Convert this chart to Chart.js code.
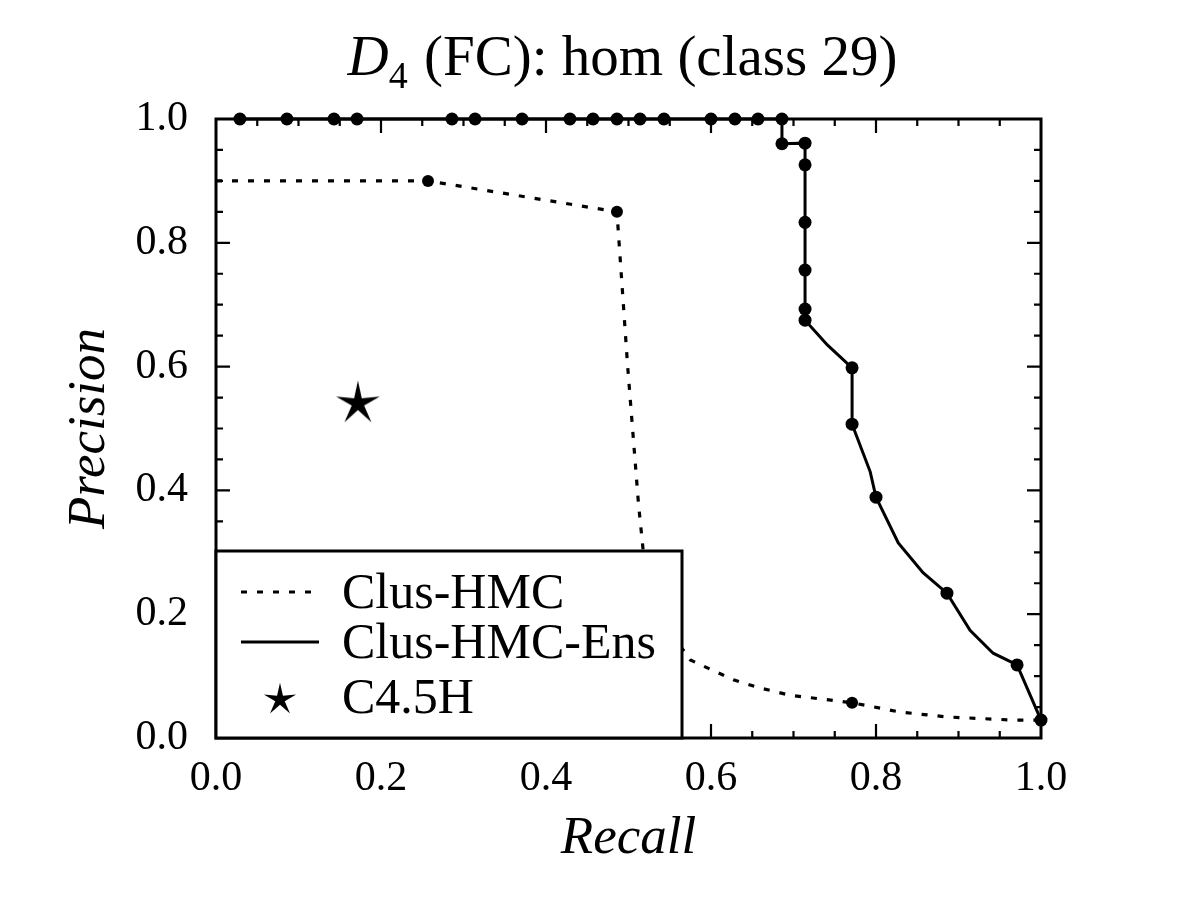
<!DOCTYPE html>
<html><head><meta charset="utf-8">
<script src="https://cdn.jsdelivr.net/npm/chart.js@4/dist/chart.umd.min.js"></script>
<style>html,body{margin:0;padding:0;background:#fff}#wrap{width:1200px;height:909px;position:relative}</style>
</head><body><div id="wrap"><canvas id="c"></canvas></div>
<script>
// ---- text ----
const titleMain = 'D';
const titleSub = '4';
const titleRest = ' (FC): hom (class 29)';
const xTitle = 'Recall';
const yTitle = 'Precision';
const tickValues = [0, 0.2, 0.4, 0.6, 0.8, 1.0];

// ---- Clus-HMC (dotted) ----
const hmcLabel = 'Clus-HMC';
const hmcRecall    = [0, 0.257, 0.486, 0.499, 0.512, 0.518, 0.535, 0.575, 0.627, 0.659, 0.696, 0.771, 0.829, 0.886, 0.966, 1.0];
const hmcPrecision = [0.9, 0.9, 0.85, 0.60, 0.38, 0.30, 0.20, 0.126, 0.094, 0.081, 0.069, 0.057, 0.042, 0.034, 0.029, 0.029];
const hmcMarked = [1, 2, 11, 15];

// ---- Clus-HMC-Ens (solid) ----
const ensLabel = 'Clus-HMC-Ens';
const ensRecall    = [0.029, 0.086, 0.143, 0.171, 0.286, 0.314, 0.371, 0.429, 0.457, 0.486, 0.514, 0.543, 0.600, 0.629, 0.657, 0.686,
                      0.686, 0.714, 0.714, 0.714, 0.714, 0.714, 0.714, 0.741, 0.771, 0.771, 0.793, 0.800, 0.827, 0.857, 0.886, 0.914, 0.942, 0.971, 1.0];
const ensPrecision = [1, 1, 1, 1, 1, 1, 1, 1, 1, 1, 1, 1, 1, 1, 1, 1,
                      0.960, 0.961, 0.926, 0.833, 0.756, 0.693, 0.675, 0.635, 0.598, 0.507, 0.430, 0.389, 0.315, 0.267, 0.234, 0.174, 0.137, 0.118, 0.029];
const ensUnmarked = [23, 26, 28, 29, 31, 32];

// ---- C4.5H (star) ----
const c45Label = 'C4.5H';
const c45Recall = [0.172];
const c45Precision = [0.544];

const FONT = '"Liberation Serif", "Times New Roman", serif';
Chart.defaults.font.family = FONT;
Chart.defaults.color = '#000';

function makeStar(R, r) {
  const s = Math.ceil(R * 2 + 4);
  const cv = document.createElement('canvas');
  cv.width = s; cv.height = s;
  const g = cv.getContext('2d');
  g.translate(s / 2, s / 2 + R * 0.1);
  g.beginPath();
  for (let i = 0; i < 10; i++) {
    const ang = -Math.PI / 2 + i * Math.PI / 5;
    const rad = i % 2 === 0 ? R : r;
    g.lineTo(Math.cos(ang) * rad, Math.sin(ang) * rad);
  }
  g.closePath();
  g.fillStyle = '#000';
  g.fill();
  return cv;
}
const bigStar = makeStar(23, 6.5);
const smallStar = makeStar(17, 5);

const toXY = (xs, ys) => xs.map((x, i) => ({x: x, y: ys[i]}));
const hmcSet = new Set(hmcMarked);
const ensUnSet = new Set(ensUnmarked);

const frameAndLegend = {
  id: 'frameAndLegend',
  afterDatasetsDraw(chart) {
    const ctx = chart.ctx, a = chart.chartArea;
    const xs = chart.scales.x, ys = chart.scales.y;
    ctx.save();
    ctx.strokeStyle = '#000';
    ctx.lineWidth = 2.2;
    for (let k = 1; k < 20; k++) {
      const v = k * 0.05;
      const len = (k % 4 === 0) ? 14 : 7;
      const px = xs.getPixelForValue(v), py = ys.getPixelForValue(v);
      ctx.beginPath();
      ctx.moveTo(px, a.bottom); ctx.lineTo(px, a.bottom - len);
      ctx.moveTo(px, a.top); ctx.lineTo(px, a.top + len);
      ctx.moveTo(a.left, py); ctx.lineTo(a.left + len, py);
      ctx.moveTo(a.right, py); ctx.lineTo(a.right - len, py);
      ctx.stroke();
    }
    ctx.lineWidth = 3;
    ctx.strokeRect(a.left, a.top, a.right - a.left, a.bottom - a.top);

    // legend box
    const W = 466, H = 187;
    const L = a.left, T = a.bottom - H;
    ctx.fillStyle = '#fff';
    ctx.fillRect(L, T, W, H);
    ctx.lineWidth = 3;
    ctx.strokeRect(L, T, W, H);
    const ds = chart.data.datasets;
    const x1 = L + 25, x2 = L + 103, tx = L + 126;
    ctx.lineWidth = ds[0].borderWidth;
    ctx.setLineDash(ds[0].borderDash);
    ctx.beginPath(); ctx.moveTo(x1, T + 41); ctx.lineTo(x2, T + 41); ctx.stroke();
    ctx.setLineDash([]);
    ctx.lineWidth = ds[1].borderWidth;
    ctx.beginPath(); ctx.moveTo(x1, T + 91); ctx.lineTo(x2, T + 91); ctx.stroke();
    ctx.drawImage(smallStar, (x1 + x2) / 2 - smallStar.width / 2, T + 147 - smallStar.height / 2);
    ctx.fillStyle = '#000';
    ctx.font = '50px ' + FONT;
    ctx.textBaseline = 'alphabetic';
    ctx.textAlign = 'left';
    ctx.fillText(ds[0].label, tx, T + 57);
    ctx.fillText(ds[1].label, tx, T + 107);
    ctx.fillText(ds[2].label, tx, T + 162);
    ctx.restore();
  },
  afterDraw(chart) {
    const ctx = chart.ctx, a = chart.chartArea;
    ctx.save();
    ctx.fillStyle = '#000';
    ctx.textBaseline = 'alphabetic';
    ctx.textAlign = 'left';
    const fMain = 'italic 57px ' + FONT, fSub = '38px ' + FONT, fRest = '57px ' + FONT;
    ctx.font = fMain; const wD = ctx.measureText(titleMain).width;
    ctx.font = fSub; const w4 = ctx.measureText(titleSub).width;
    ctx.font = fRest; const wR = ctx.measureText(titleRest).width;
    const total = wD + w4 + 2 + wR;
    let x = (a.left + a.right) / 2 - 6 - total / 2;
    const base = 75;
    ctx.font = fMain; ctx.fillText(titleMain, x, base); x += wD;
    ctx.font = fSub; ctx.fillText(titleSub, x, base + 13); x += w4 + 2;
    ctx.font = fRest; ctx.fillText(titleRest, x, base);
    ctx.restore();
  }
};

new Chart(document.getElementById('c'), {
  type: 'scatter',
  data: {
    datasets: [
      {
        label: hmcLabel,
        data: toXY(hmcRecall, hmcPrecision),
        showLine: true,
        borderColor: '#000',
        backgroundColor: '#000',
        borderWidth: 3.2,
        borderDash: [6, 10],
        tension: 0,
        pointRadius: c => hmcSet.has(c.dataIndex) ? 6 : 0,
        pointBorderWidth: 0,
        pointHoverRadius: 0,
        clip: false
      },
      {
        label: ensLabel,
        data: toXY(ensRecall, ensPrecision),
        showLine: true,
        borderColor: '#000',
        backgroundColor: '#000',
        borderWidth: 3,
        tension: 0,
        pointRadius: c => ensUnSet.has(c.dataIndex) ? 0 : 6.5,
        pointBorderWidth: 0,
        pointHoverRadius: 0,
        clip: false
      },
      {
        label: c45Label,
        data: toXY(c45Recall, c45Precision),
        showLine: false,
        pointStyle: bigStar,
        backgroundColor: '#000',
        borderColor: '#000',
        clip: false
      }
    ]
  },
  options: {
    responsive: true,
    maintainAspectRatio: false,
    animation: false,
    events: [],
    layout: { padding: { top: 119, right: 159, bottom: 0, left: 0 } },
    plugins: { legend: { display: false }, title: { display: false }, tooltip: { enabled: false } },
    scales: {
      x: {
        type: 'linear', min: 0, max: 1,
        afterBuildTicks: s => { s.ticks = tickValues.map(v => ({value: v})); },
        afterFit: s => { s.height = 171; },
        grid: { display: false, drawTicks: false, tickLength: 0 },
        border: { display: false },
        ticks: { font: { size: 42 }, padding: 16, callback: v => v.toFixed(1), maxRotation: 0, autoSkip: false },
        title: { display: true, text: xTitle, font: { size: 53, style: 'italic' }, padding: { top: 0, bottom: 38 } }
      },
      y: {
        type: 'linear', min: 0, max: 1,
        afterBuildTicks: s => { s.ticks = tickValues.map(v => ({value: v})); },
        afterFit: s => { s.width = 216; },
        grid: { display: false, drawTicks: false, tickLength: 0 },
        border: { display: false },
        ticks: { font: { size: 42 }, padding: 28, callback: v => v.toFixed(1), autoSkip: false },
        title: { display: true, text: yTitle, font: { size: 53, style: 'italic' }, padding: { top: 58, bottom: 0 } }
      }
    }
  },
  plugins: [frameAndLegend]
});
</script>
</body></html>
